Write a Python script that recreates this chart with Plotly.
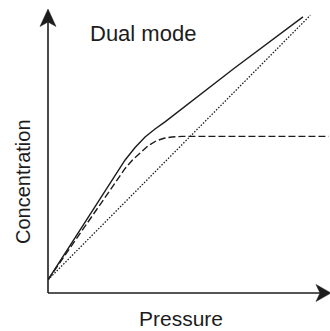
import plotly.graph_objects as go

# Dual-mode sorption: total uptake, Langmuir (hole-filling) and Henry (dissolution) parts
pressure_dual = [0, 2.94, 3.32, 3.70, 4.08, 4.46, 7.1, 9.72]
conc_dual = [0, 4.53, 5.0, 5.4, 5.7, 5.97, 8.0, 9.94]

pressure_langmuir = [0, 2.55, 2.94, 3.24, 3.51, 3.81, 4.12, 4.42, 4.73, 5.11, 10.7]
conc_langmuir = [0, 3.66, 4.21, 4.55, 4.81, 5.06, 5.25, 5.35, 5.40, 5.42, 5.42]

pressure_henry = [0, 10]
conc_henry = [0, 10]

title_text = "Dual mode"
x_title = "Pressure"
y_title = "Concentration"

W, H = 330, 331
L, R, T, B = 48, 0, 10, 38
INK = "#1c1c1c"
FONT = "Liberation Sans, Arial, sans-serif"


def px_x(px):
    return (px - L) / (W - L - R)


def px_y(py):
    return (H - B - py) / (H - T - B)


fig = go.Figure()

fig.add_trace(go.Scatter(
    x=pressure_henry, y=conc_henry, mode="lines",
    line=dict(color=INK, width=1.3, dash="1.5px,1.6px"),
))
fig.add_trace(go.Scatter(
    x=pressure_langmuir, y=conc_langmuir, mode="lines",
    line=dict(color=INK, width=1.4, dash="7px,3px"),
))
fig.add_trace(go.Scatter(
    x=pressure_dual, y=conc_dual, mode="lines",
    line=dict(color=INK, width=1.4),
))

# axis lines with arrowheads
shapes = [
    dict(type="line", xref="paper", yref="paper",
         x0=px_x(48), y0=px_y(293), x1=px_x(48), y1=px_y(20),
         line=dict(color=INK, width=1.6)),
    dict(type="line", xref="paper", yref="paper",
         x0=px_x(48), y0=px_y(293), x1=px_x(322), y1=px_y(293),
         line=dict(color=INK, width=1.6)),
]


def head(points):
    d = "M " + " L ".join(f"{px_x(a):.5f},{px_y(b):.5f}" for a, b in points) + " Z"
    return dict(type="path", xref="paper", yref="paper", path=d,
                fillcolor=INK, line=dict(color=INK, width=0.5))


shapes.append(head([(48, 9), (40, 26.5), (48, 22), (56, 26.5)]))
shapes.append(head([(331, 293), (316, 284.5), (320, 293), (316, 301.5)]))

annotations = [
    dict(text=title_text, xref="paper", yref="paper", x=px_x(143), y=px_y(33),
         xanchor="center", yanchor="middle", showarrow=False,
         font=dict(family=FONT, size=22, color=INK)),
    dict(text=x_title, xref="paper", yref="paper", x=px_x(180.5), y=px_y(318),
         xanchor="center", yanchor="middle", showarrow=False,
         font=dict(family=FONT, size=21, color=INK)),
    dict(text=y_title, xref="paper", yref="paper", x=px_x(23), y=px_y(182),
         xanchor="center", yanchor="middle", showarrow=False, textangle=-90,
         font=dict(family=FONT, size=20, color=INK)),
]

axis_common = dict(showgrid=False, zeroline=False, showticklabels=False,
                   showline=False, ticks="", fixedrange=True)

fig.update_layout(
    width=W, height=H,
    margin=dict(l=L, r=R, t=T, b=B, pad=0),
    paper_bgcolor="white", plot_bgcolor="white",
    showlegend=False,
    xaxis=dict(range=[0, 10.75], **axis_common),
    yaxis=dict(range=[-0.5, 10.2], **axis_common),
    shapes=shapes,
    annotations=annotations,
)

fig.write_html("out.html", config=dict(displayModeBar=False))
